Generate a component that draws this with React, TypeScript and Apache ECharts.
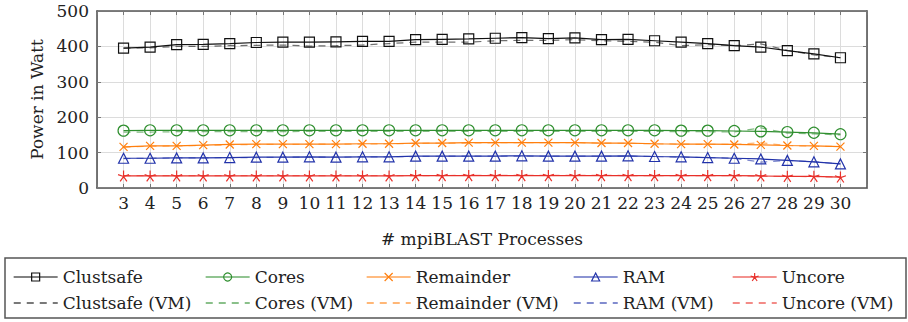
import React, { useEffect, useRef } from "react";
import * as echarts from "echarts";

const procs = [3, 4, 5, 6, 7, 8, 9, 10, 11, 12, 13, 14, 15, 16, 17, 18, 19, 20, 21, 22, 23, 24, 25, 26, 27, 28, 29, 30];

const clustsafe = [395, 398, 405, 406, 408, 411, 412, 412, 413, 414, 414, 419, 420, 421, 423, 425, 422, 424, 419, 420, 416, 412, 408, 402, 398, 388, 379, 368];
const clustsafeVM = [395, 396, 400, 400, 402, 403, 404, 401, 402, 404, 408, 412, 412, 412, 416, 417, 417, 419, 416, 414, 412, 402, 405, 402, 407, 389, 376, 368];
const cores = [162, 163, 163, 163, 163, 163, 163, 163, 163, 163, 163, 163, 163, 163, 163, 163, 163, 163, 163, 163, 163, 162, 162, 161, 160, 158, 156, 152];
const coresVM = [158, 158, 159, 159, 159, 159, 159, 160, 160, 160, 160, 160, 160, 160, 160, 160, 160, 160, 160, 160, 160, 159, 159, 158, 170, 155, 153, 150];
const remainder = [116, 119, 119, 121, 123, 124, 124, 124, 124, 125, 125, 127, 127, 128, 128, 128, 128, 128, 127, 127, 125, 124, 124, 123, 122, 120, 119, 117];
const remainderVM = [115, 118, 119, 120, 122, 123, 123, 124, 124, 124, 125, 126, 127, 127, 128, 128, 128, 128, 127, 126, 125, 124, 123, 123, 128, 120, 118, 117];
const ram = [84, 84, 85, 85, 86, 87, 87, 88, 87, 88, 88, 90, 90, 90, 90, 91, 90, 90, 90, 91, 89, 88, 86, 84, 82, 78, 74, 68];
const ramVM = [83, 84, 85, 85, 86, 86, 87, 87, 87, 88, 88, 89, 90, 90, 90, 90, 90, 90, 90, 90, 89, 87, 86, 84, 73, 78, 74, 68];
const uncore = [34, 34, 34, 34, 34, 34, 34, 34, 34, 34, 34, 35, 35, 35, 35, 35, 35, 35, 35, 35, 35, 35, 35, 35, 34, 33, 33, 31];
const uncoreVM = [35, 35, 35, 35, 35, 35, 35, 35, 35, 35, 35, 35, 35, 36, 36, 36, 36, 36, 36, 35, 35, 35, 35, 35, 33, 33, 32, 31];

const xTickMin = 2;
const xTickMax = 31;
const yTicks = [0, 100, 200, 300, 400, 500];

const FONT = "'DejaVu Serif', 'Liberation Serif', serif";
const STAR = "path://M10,10L10,0M10,10L19.51,6.91M10,10L0.49,6.91M10,10L4.12,18.09M10,10L15.88,18.09";
const CROSS = "path://M0,0L10,10M10,0L0,10";

const specs = [
  { name: "Clustsafe", vals: clustsafe, vm: clustsafeVM, color: "#111111", symbol: "rect", size: 10 },
  { name: "Cores", vals: cores, vm: coresVM, color: "#2f8f2f", symbol: "circle", size: 11 },
  { name: "Remainder", vals: remainder, vm: remainderVM, color: "#ff7f0e", symbol: CROSS, size: 8 },
  { name: "RAM", vals: ram, vm: ramVM, color: "#2233aa", symbol: "triangle", size: 10 },
  { name: "Uncore", vals: uncore, vm: uncoreVM, color: "#e8302a", symbol: STAR, size: 11 },
];

const legendLefts = [13, 205, 366, 573, 732];

export default function App() {
  const ref = useRef<HTMLDivElement>(null);
  useEffect(() => {
    const chart = echarts.init(ref.current!, null, { renderer: "svg" });
    const series: any[] = [];
    const legends: any[] = [];
    specs.forEach((s) => {
      series.push({
        name: s.name,
        type: "line",
        data: procs.map((p, j) => [p, s.vals[j]]),
        symbol: s.symbol,
        symbolSize: s.size,
        itemStyle: { color: "rgba(255,255,255,0)", borderColor: s.color, borderWidth: 1.2 },
        lineStyle: { color: s.color, width: 1.2 },
        z: 3,
      });
    });
    specs.forEach((s) => {
      series.push({
        name: s.name + " (VM)",
        type: "line",
        data: procs.map((p, j) => [p, s.vm[j]]),
        symbol: "none",
        itemStyle: { color: s.color },
        lineStyle: { color: s.color, width: 1.2, type: [7, 6], opacity: 0.6 },
        z: 2,
      });
    });
    const textStyle = { fontFamily: FONT, fontSize: 17, color: "#222", lineHeight: 18 };
    specs.forEach((s, i) => {
      legends.push({
        data: [{ name: s.name, itemStyle: { color: "rgba(255,255,255,0)", borderColor: s.color, borderWidth: 1.2 }, lineStyle: { color: s.color, width: 1.3, opacity: 0.7 } }],
        left: legendLefts[i],
        top: 268,
        padding: 0,
        itemWidth: 44,
        itemHeight: 10,
        textStyle,
        selectedMode: false,
      });
      legends.push({
        data: [{ name: s.name + " (VM)", itemStyle: { color: "rgba(255,255,255,0)", borderColor: "rgba(255,255,255,0)", borderWidth: 0 }, lineStyle: { color: s.color, width: 1.5, type: [7, 6], opacity: 0.75 } }],
        left: legendLefts[i],
        top: 294,
        padding: 0,
        itemWidth: 44,
        itemHeight: 10,
        textStyle,
        selectedMode: false,
      });
    });
    const labelStyle = { fontFamily: FONT, fontSize: 17, color: "#222" };
    chart.setOption({
      animation: false,
      backgroundColor: "#fff",
      textStyle: { fontFamily: FONT },
      grid: { left: 97, right: 41, top: 11, bottom: 134 },
      xAxis: [
        {
          type: "value",
          position: "bottom",
          min: xTickMin,
          max: xTickMax,
          interval: 1,
          axisLine: { onZero: false, lineStyle: { color: "#555", width: 1.6 } },
          axisTick: { inside: true, length: 4, lineStyle: { color: "#777" } },
          axisLabel: { ...labelStyle, margin: 6, formatter: (v: number) => (v < 3 || v > 30 ? "" : String(v)) },
          splitLine: { show: true, lineStyle: { color: "#dcdcdc", width: 1 } },
          name: "# mpiBLAST Processes",
          nameLocation: "middle",
          nameGap: 42,
          nameTextStyle: labelStyle,
        },
        {
          type: "value",
          position: "top",
          min: xTickMin,
          max: xTickMax,
          interval: 1,
          axisLine: { onZero: false, lineStyle: { color: "#555", width: 1.6 } },
          axisTick: { inside: true, length: 4, lineStyle: { color: "#777" } },
          axisLabel: { show: false },
          splitLine: { show: false },
        },
      ],
      yAxis: [
        {
          type: "value",
          min: yTicks[0],
          max: yTicks[yTicks.length - 1],
          interval: 100,
          axisLine: { show: true, onZero: false, lineStyle: { color: "#555", width: 1.6 } },
          axisTick: { show: true, inside: true, length: 4, lineStyle: { color: "#777" } },
          axisLabel: { ...labelStyle, margin: 8 },
          splitLine: { show: true, lineStyle: { color: "#dcdcdc", width: 1 } },
          name: "Power in Watt",
          nameLocation: "middle",
          nameGap: 50,
          nameRotate: 90,
          nameTextStyle: labelStyle,
        },
        {
          type: "value",
          position: "right",
          min: yTicks[0],
          max: yTicks[yTicks.length - 1],
          interval: 100,
          axisLine: { show: true, onZero: false, lineStyle: { color: "#555", width: 1.6 } },
          axisTick: { show: true, inside: true, length: 4, lineStyle: { color: "#777" } },
          axisLabel: { show: false },
          splitLine: { show: false },
        },
      ],
      legend: legends,
      graphic: [
        {
          type: "rect",
          shape: { x: 5, y: 258, width: 901, height: 60 },
          style: { fill: "none", stroke: "#555", lineWidth: 1.5 },
        },
      ],
      series,
    });
    return () => chart.dispose();
  }, []);
  return (
    <div
      ref={ref}
      style={{ position: "fixed", left: 0, top: 0, width: 908, height: 322, background: "#fff" }}
    />
  );
}
